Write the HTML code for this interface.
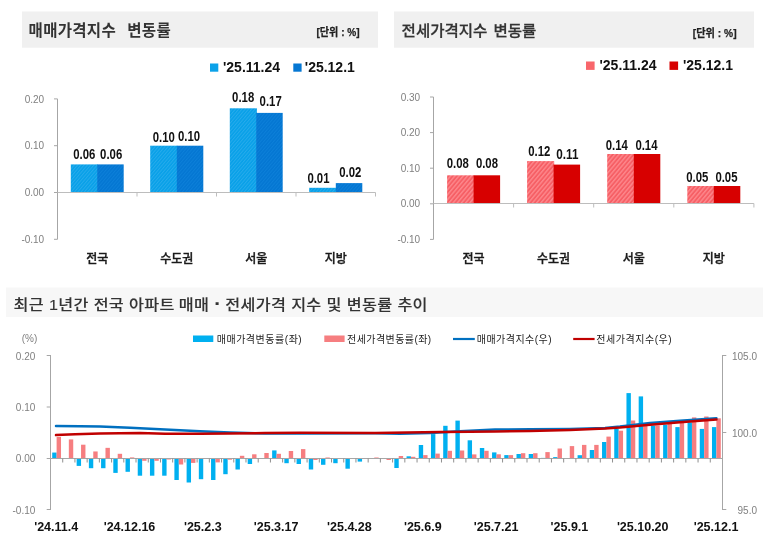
<!DOCTYPE html>
<html lang="ko"><head><meta charset="utf-8"><title>주간 아파트 가격 동향</title>
<style>html,body{margin:0;padding:0;background:#fff;}body{width:766px;height:551px;overflow:hidden;}svg{display:block;}
text{font-family:'Liberation Sans', 'Noto Sans CJK KR', 'NanumGothic', sans-serif;}
.kr{font-family:'Liberation Sans','Noto Sans CJK KR','NanumGothic',sans-serif;}
.ax{font-size:10px;fill:#808080;}
.val{font-size:15px;font-weight:700;fill:#111;}
.cat{font-size:12px;font-weight:500;fill:#1a1a1a;stroke:#1a1a1a;stroke-width:0.35px;}
.leg{font-size:14px;font-weight:700;fill:#111;}
.xl{font-size:12.5px;font-weight:700;fill:#111;}
.lg2{font-size:10px;fill:#222;}
</style></head><body>
<svg width="766" height="551" viewBox="0 0 766 551">
<defs>
<pattern id="pb1" width="2.5" height="2.5" patternUnits="userSpaceOnUse" patternTransform="rotate(-50)"><rect width="2.5" height="2.5" fill="#07a0e8"/><rect width="2.5" height="1" fill="#27abec"/></pattern>
<pattern id="pb2" width="2.5" height="2.5" patternUnits="userSpaceOnUse" patternTransform="rotate(-50)"><rect width="2.5" height="2.5" fill="#0476d2"/><rect width="2.5" height="1" fill="#0d80d9"/></pattern>
<pattern id="pr1" width="3.2" height="3.2" patternUnits="userSpaceOnUse" patternTransform="rotate(-50)"><rect width="3.2" height="3.2" fill="#f65f65"/><rect width="3.2" height="1.4" fill="#fd878c"/></pattern>
</defs>
<rect width="766" height="551" fill="#ffffff"/>
<rect x="22" y="11.5" width="356" height="36.2" fill="#f0f0f0"/>
<rect x="394" y="11.5" width="360" height="36.2" fill="#f0f0f0"/>
<rect x="6" y="287.5" width="757" height="29.5" fill="#f7f7f7"/>
<text class="kr" transform="translate(28.60 35.90) scale(0.985 1)" font-size="15.80" font-weight="700" fill="#333"  style="letter-spacing:0.25px;word-spacing:6.90px">매매가격지수 변동률</text>
<text class="kr" transform="translate(401.60 36.10) scale(1.050 1)" font-size="14.80" font-weight="500" fill="#333" stroke="#333" stroke-width="0.25" style="letter-spacing:0.00px;word-spacing:1.71px">전세가격지수 변동률</text>
<text class="kr" x="316.4" y="36" font-size="11" font-weight="700" fill="#222" stroke="#222" stroke-width="0.25" textLength="43.3" lengthAdjust="spacingAndGlyphs">[단위 : %]</text>
<text class="kr" x="692.8" y="36.5" font-size="11" font-weight="700" fill="#222" stroke="#222" stroke-width="0.25" textLength="43.8" lengthAdjust="spacingAndGlyphs">[단위 : %]</text>
<text class="kr" transform="translate(13.50 310.30) scale(1.080 1)" font-size="15.00" font-weight="500" fill="#333" stroke="#333" stroke-width="0.1" style="letter-spacing:0.28px;word-spacing:0.19px">최근 1년간 전국 아파트 <tspan dx="-0.9">매매</tspan> <tspan font-weight="700" font-size="19">·</tspan> <tspan dx="-0.9">전세가격</tspan> 지수 및 변동률 추이</text>
<g stroke="#a6a6a6" stroke-width="1" fill="none">
<path d="M57.5 98.9V239.3"/>
<path d="M54.0 98.9H57.5"/>
<path d="M54.0 145.7H57.5"/>
<path d="M54.0 192.5H57.5"/>
<path d="M54.0 239.3H57.5"/>
</g>
<text class="ax" x="44.2" y="102.5" text-anchor="end">0.20</text>
<text class="ax" x="44.2" y="149.3" text-anchor="end">0.10</text>
<text class="ax" x="44.2" y="196.1" text-anchor="end">0.00</text>
<text class="ax" x="44.2" y="242.9" text-anchor="end">-0.10</text>
<rect x="70.8" y="164.4" width="27.1" height="28.1" fill="url(#pb1)"/>
<text class="val" x="73.2" y="159.2" textLength="22.1" lengthAdjust="spacingAndGlyphs">0.06</text>
<rect x="97.2" y="164.4" width="26.5" height="28.1" fill="url(#pb2)"/>
<text class="val" x="100.1" y="159.2" textLength="22.1" lengthAdjust="spacingAndGlyphs">0.06</text>
<rect x="150.2" y="145.7" width="27.1" height="46.8" fill="url(#pb1)"/>
<text class="val" x="152.7" y="142.3" textLength="22.1" lengthAdjust="spacingAndGlyphs">0.10</text>
<rect x="176.8" y="145.7" width="26.5" height="46.8" fill="url(#pb2)"/>
<text class="val" x="178.0" y="141.0" textLength="22.1" lengthAdjust="spacingAndGlyphs">0.10</text>
<rect x="229.8" y="108.3" width="27.1" height="84.2" fill="url(#pb1)"/>
<text class="val" x="232.1" y="102.0" textLength="22.1" lengthAdjust="spacingAndGlyphs">0.18</text>
<rect x="256.2" y="112.9" width="26.5" height="79.6" fill="url(#pb2)"/>
<text class="val" x="259.6" y="106.2" textLength="22.1" lengthAdjust="spacingAndGlyphs">0.17</text>
<rect x="309.2" y="187.8" width="27.1" height="4.7" fill="url(#pb1)"/>
<text class="val" x="307.4" y="182.6" textLength="22.1" lengthAdjust="spacingAndGlyphs">0.01</text>
<rect x="335.8" y="183.1" width="26.5" height="9.4" fill="url(#pb2)"/>
<text class="val" x="339.2" y="177.2" textLength="22.1" lengthAdjust="spacingAndGlyphs">0.02</text>
<g stroke="#bdbdbd" stroke-width="1" fill="none">
<path d="M57.5 192.5H375.5"/>
<path d="M137.0 192.5v4"/>
<path d="M216.5 192.5v4"/>
<path d="M296.0 192.5v4"/>
<path d="M375.5 192.5v4"/>
</g>
<text class="kr cat" x="97.2" y="263" text-anchor="middle">전국</text>
<text class="kr cat" x="176.8" y="263" text-anchor="middle">수도권</text>
<text class="kr cat" x="256.2" y="263" text-anchor="middle">서울</text>
<text class="kr cat" x="335.8" y="263" text-anchor="middle">지방</text>
<g stroke="#a6a6a6" stroke-width="1" fill="none">
<path d="M433.5 97.0V239.4"/>
<path d="M430.0 97.0H433.5"/>
<path d="M430.0 132.6H433.5"/>
<path d="M430.0 168.2H433.5"/>
<path d="M430.0 203.8H433.5"/>
<path d="M430.0 239.4H433.5"/>
</g>
<text class="ax" x="420.2" y="100.6" text-anchor="end">0.30</text>
<text class="ax" x="420.2" y="136.2" text-anchor="end">0.20</text>
<text class="ax" x="420.2" y="171.8" text-anchor="end">0.10</text>
<text class="ax" x="420.2" y="207.4" text-anchor="end">0.00</text>
<text class="ax" x="420.2" y="243.0" text-anchor="end">-0.10</text>
<rect x="447.1" y="175.3" width="27.1" height="28.5" fill="url(#pr1)"/>
<text class="val" x="446.7" y="168.3" textLength="22.1" lengthAdjust="spacingAndGlyphs">0.08</text>
<rect x="473.6" y="175.3" width="26.5" height="28.5" fill="#d70000"/>
<text class="val" x="475.9" y="168.3" textLength="22.1" lengthAdjust="spacingAndGlyphs">0.08</text>
<rect x="527.1" y="161.1" width="27.1" height="42.7" fill="url(#pr1)"/>
<text class="val" x="528.3" y="155.8" textLength="22.1" lengthAdjust="spacingAndGlyphs">0.12</text>
<rect x="553.6" y="164.6" width="26.5" height="39.2" fill="#d70000"/>
<text class="val" x="556.3" y="158.5" textLength="22.1" lengthAdjust="spacingAndGlyphs">0.11</text>
<rect x="607.2" y="154.0" width="27.1" height="49.8" fill="url(#pr1)"/>
<text class="val" x="605.8" y="150.0" textLength="22.1" lengthAdjust="spacingAndGlyphs">0.14</text>
<rect x="633.8" y="154.0" width="26.5" height="49.8" fill="#d70000"/>
<text class="val" x="635.4" y="150.0" textLength="22.1" lengthAdjust="spacingAndGlyphs">0.14</text>
<rect x="687.3" y="186.0" width="27.1" height="17.8" fill="url(#pr1)"/>
<text class="val" x="686.2" y="181.9" textLength="22.1" lengthAdjust="spacingAndGlyphs">0.05</text>
<rect x="713.8" y="186.0" width="26.5" height="17.8" fill="#d70000"/>
<text class="val" x="715.4" y="181.9" textLength="22.1" lengthAdjust="spacingAndGlyphs">0.05</text>
<g stroke="#bdbdbd" stroke-width="1" fill="none">
<path d="M433.5 203.5H753.9"/>
<path d="M513.6 203.5v4"/>
<path d="M593.7 203.5v4"/>
<path d="M673.8 203.5v4"/>
<path d="M753.9 203.5v4"/>
</g>
<text class="kr cat" x="473.6" y="263" text-anchor="middle">전국</text>
<text class="kr cat" x="553.6" y="263" text-anchor="middle">수도권</text>
<text class="kr cat" x="633.8" y="263" text-anchor="middle">서울</text>
<text class="kr cat" x="713.8" y="263" text-anchor="middle">지방</text>
<rect x="210" y="63.5" width="8.3" height="8.2" fill="#0ba2e9"/>
<text class="leg" x="223" y="71.6">'25.11.24</text>
<rect x="293.3" y="63.5" width="8.3" height="8.2" fill="#0577d3"/>
<text class="leg" x="304.8" y="71.6">'25.12.1</text>
<rect x="586" y="61.5" width="8.6" height="8.4" fill="#f8666b"/>
<text class="leg" x="599.5" y="70">'25.11.24</text>
<rect x="669.5" y="61.5" width="8.6" height="8.4" fill="#d70000"/>
<text class="leg" x="683" y="70">'25.12.1</text>
<g fill="#00b0f0">
<rect x="52.21" y="452.55" width="4.40" height="5.95"/>
<rect x="76.65" y="458.50" width="4.40" height="7.40"/>
<rect x="88.86" y="458.50" width="4.40" height="9.70"/>
<rect x="101.08" y="458.50" width="4.40" height="9.70"/>
<rect x="113.30" y="458.50" width="4.40" height="14.40"/>
<rect x="125.52" y="458.50" width="4.40" height="13.30"/>
<rect x="137.74" y="458.50" width="4.40" height="17.20"/>
<rect x="149.95" y="458.50" width="4.40" height="17.20"/>
<rect x="162.17" y="458.50" width="4.40" height="17.20"/>
<rect x="174.39" y="458.50" width="4.40" height="21.50"/>
<rect x="186.61" y="458.50" width="4.40" height="24.00"/>
<rect x="198.83" y="458.50" width="4.40" height="20.70"/>
<rect x="211.05" y="458.50" width="4.40" height="21.50"/>
<rect x="223.26" y="458.50" width="4.40" height="15.70"/>
<rect x="235.48" y="458.50" width="4.40" height="11.00"/>
<rect x="247.70" y="458.50" width="4.40" height="5.50"/>
<rect x="272.14" y="450.40" width="4.40" height="8.10"/>
<rect x="284.35" y="458.50" width="4.40" height="4.70"/>
<rect x="296.57" y="458.50" width="4.40" height="5.50"/>
<rect x="308.79" y="458.50" width="4.40" height="11.00"/>
<rect x="321.01" y="458.50" width="4.40" height="6.30"/>
<rect x="333.23" y="458.50" width="4.40" height="4.70"/>
<rect x="345.45" y="458.50" width="4.40" height="10.20"/>
<rect x="357.66" y="458.50" width="4.40" height="3.10"/>
<rect x="369.88" y="458.50" width="4.40" height="0.40"/>
<rect x="382.10" y="458.50" width="4.40" height="0.30"/>
<rect x="394.32" y="458.50" width="4.40" height="9.50"/>
<rect x="406.54" y="456.30" width="4.40" height="2.20"/>
<rect x="418.75" y="445.00" width="4.40" height="13.50"/>
<rect x="430.97" y="434.10" width="4.40" height="24.40"/>
<rect x="443.19" y="425.80" width="4.40" height="32.70"/>
<rect x="455.41" y="420.60" width="4.40" height="37.90"/>
<rect x="467.63" y="440.30" width="4.40" height="18.20"/>
<rect x="479.85" y="448.00" width="4.40" height="10.50"/>
<rect x="492.06" y="452.40" width="4.40" height="6.10"/>
<rect x="504.28" y="455.10" width="4.40" height="3.40"/>
<rect x="516.50" y="454.00" width="4.40" height="4.50"/>
<rect x="528.72" y="454.00" width="4.40" height="4.50"/>
<rect x="540.94" y="457.90" width="4.40" height="0.60"/>
<rect x="553.15" y="457.10" width="4.40" height="1.40"/>
<rect x="577.59" y="455.20" width="4.40" height="3.30"/>
<rect x="589.81" y="450.00" width="4.40" height="8.50"/>
<rect x="602.03" y="442.00" width="4.40" height="16.50"/>
<rect x="614.25" y="428.90" width="4.40" height="29.60"/>
<rect x="626.46" y="393.10" width="4.40" height="65.40"/>
<rect x="638.68" y="396.40" width="4.40" height="62.10"/>
<rect x="650.90" y="425.60" width="4.40" height="32.90"/>
<rect x="663.12" y="424.70" width="4.40" height="33.80"/>
<rect x="675.34" y="427.10" width="4.40" height="31.40"/>
<rect x="687.55" y="422.30" width="4.40" height="36.20"/>
<rect x="699.77" y="428.90" width="4.40" height="29.60"/>
<rect x="711.99" y="427.10" width="4.40" height="31.40"/>
</g>
<g fill="#f67e80">
<rect x="56.61" y="436.90" width="4.40" height="21.60"/>
<rect x="68.83" y="439.40" width="4.40" height="19.10"/>
<rect x="81.05" y="444.70" width="4.40" height="13.80"/>
<rect x="93.26" y="451.45" width="4.40" height="7.05"/>
<rect x="105.48" y="447.85" width="4.40" height="10.65"/>
<rect x="117.70" y="453.80" width="4.40" height="4.70"/>
<rect x="129.92" y="457.40" width="4.40" height="1.10"/>
<rect x="142.14" y="458.50" width="4.40" height="2.30"/>
<rect x="154.35" y="458.50" width="4.40" height="2.30"/>
<rect x="166.57" y="458.50" width="4.40" height="1.00"/>
<rect x="178.79" y="458.50" width="4.40" height="6.00"/>
<rect x="191.01" y="458.50" width="4.40" height="4.40"/>
<rect x="203.23" y="458.50" width="4.40" height="0.50"/>
<rect x="215.45" y="458.50" width="4.40" height="3.90"/>
<rect x="227.66" y="458.50" width="4.40" height="1.20"/>
<rect x="239.88" y="455.80" width="4.40" height="2.70"/>
<rect x="252.10" y="454.30" width="4.40" height="4.20"/>
<rect x="264.32" y="453.00" width="4.40" height="5.50"/>
<rect x="276.54" y="453.80" width="4.40" height="4.70"/>
<rect x="288.75" y="451.00" width="4.40" height="7.50"/>
<rect x="300.97" y="449.10" width="4.40" height="9.40"/>
<rect x="313.19" y="458.50" width="4.40" height="1.50"/>
<rect x="325.41" y="457.50" width="4.40" height="1.00"/>
<rect x="374.28" y="457.50" width="4.40" height="1.00"/>
<rect x="386.50" y="458.50" width="4.40" height="1.50"/>
<rect x="398.72" y="456.00" width="4.40" height="2.50"/>
<rect x="410.94" y="456.80" width="4.40" height="1.70"/>
<rect x="423.15" y="455.10" width="4.40" height="3.40"/>
<rect x="435.37" y="453.60" width="4.40" height="4.90"/>
<rect x="447.59" y="450.80" width="4.40" height="7.70"/>
<rect x="459.81" y="450.50" width="4.40" height="8.00"/>
<rect x="472.03" y="454.40" width="4.40" height="4.10"/>
<rect x="484.25" y="450.80" width="4.40" height="7.70"/>
<rect x="496.46" y="454.30" width="4.40" height="4.20"/>
<rect x="508.68" y="455.10" width="4.40" height="3.40"/>
<rect x="520.90" y="453.20" width="4.40" height="5.30"/>
<rect x="533.12" y="453.20" width="4.40" height="5.30"/>
<rect x="545.34" y="452.10" width="4.40" height="6.40"/>
<rect x="557.55" y="448.50" width="4.40" height="10.00"/>
<rect x="569.77" y="446.10" width="4.40" height="12.40"/>
<rect x="581.99" y="444.90" width="4.40" height="13.60"/>
<rect x="594.21" y="444.90" width="4.40" height="13.60"/>
<rect x="606.43" y="436.60" width="4.40" height="21.90"/>
<rect x="618.65" y="430.70" width="4.40" height="27.80"/>
<rect x="630.86" y="420.50" width="4.40" height="38.00"/>
<rect x="643.08" y="425.60" width="4.40" height="32.90"/>
<rect x="655.30" y="425.50" width="4.40" height="33.00"/>
<rect x="667.52" y="422.90" width="4.40" height="35.60"/>
<rect x="679.74" y="422.30" width="4.40" height="36.20"/>
<rect x="691.95" y="417.40" width="4.40" height="41.10"/>
<rect x="704.17" y="416.50" width="4.40" height="42.00"/>
<rect x="716.39" y="418.30" width="4.40" height="40.20"/>
</g>
<g stroke="#a6a6a6" stroke-width="1" fill="none">
<path d="M50.5 355V510"/>
<path d="M46.7 355.5H50.5"/>
<path d="M46.7 407.0H50.5"/>
<path d="M46.7 458.5H50.5"/>
<path d="M46.7 509.5H50.5"/>
<path d="M722.5 355V510"/>
<path d="M722.5 355.5H726.3"/>
<path d="M722.5 432.5H726.3"/>
<path d="M722.5 509.5H726.3"/>
<path d="M50.5 458.5H722.5"/>
<path d="M62.72 458.5v4" stroke="#8f8f8f"/>
<path d="M74.94 458.5v4" stroke="#8f8f8f"/>
<path d="M87.15 458.5v4" stroke="#8f8f8f"/>
<path d="M99.37 458.5v4" stroke="#8f8f8f"/>
<path d="M111.59 458.5v4" stroke="#8f8f8f"/>
<path d="M123.81 458.5v4" stroke="#8f8f8f"/>
<path d="M136.03 458.5v4" stroke="#8f8f8f"/>
<path d="M148.25 458.5v4" stroke="#8f8f8f"/>
<path d="M160.46 458.5v4" stroke="#8f8f8f"/>
<path d="M172.68 458.5v4" stroke="#8f8f8f"/>
<path d="M184.90 458.5v4" stroke="#8f8f8f"/>
<path d="M197.12 458.5v4" stroke="#8f8f8f"/>
<path d="M209.34 458.5v4" stroke="#8f8f8f"/>
<path d="M221.55 458.5v4" stroke="#8f8f8f"/>
<path d="M233.77 458.5v4" stroke="#8f8f8f"/>
<path d="M245.99 458.5v4" stroke="#8f8f8f"/>
<path d="M258.21 458.5v4" stroke="#8f8f8f"/>
<path d="M270.43 458.5v4" stroke="#8f8f8f"/>
<path d="M282.65 458.5v4" stroke="#8f8f8f"/>
<path d="M294.86 458.5v4" stroke="#8f8f8f"/>
<path d="M307.08 458.5v4" stroke="#8f8f8f"/>
<path d="M319.30 458.5v4" stroke="#8f8f8f"/>
<path d="M331.52 458.5v4" stroke="#8f8f8f"/>
<path d="M343.74 458.5v4" stroke="#8f8f8f"/>
<path d="M355.95 458.5v4" stroke="#8f8f8f"/>
<path d="M368.17 458.5v4" stroke="#8f8f8f"/>
<path d="M380.39 458.5v4" stroke="#8f8f8f"/>
<path d="M392.61 458.5v4" stroke="#8f8f8f"/>
<path d="M404.83 458.5v4" stroke="#8f8f8f"/>
<path d="M417.05 458.5v4" stroke="#8f8f8f"/>
<path d="M429.26 458.5v4" stroke="#8f8f8f"/>
<path d="M441.48 458.5v4" stroke="#8f8f8f"/>
<path d="M453.70 458.5v4" stroke="#8f8f8f"/>
<path d="M465.92 458.5v4" stroke="#8f8f8f"/>
<path d="M478.14 458.5v4" stroke="#8f8f8f"/>
<path d="M490.35 458.5v4" stroke="#8f8f8f"/>
<path d="M502.57 458.5v4" stroke="#8f8f8f"/>
<path d="M514.79 458.5v4" stroke="#8f8f8f"/>
<path d="M527.01 458.5v4" stroke="#8f8f8f"/>
<path d="M539.23 458.5v4" stroke="#8f8f8f"/>
<path d="M551.45 458.5v4" stroke="#8f8f8f"/>
<path d="M563.66 458.5v4" stroke="#8f8f8f"/>
<path d="M575.88 458.5v4" stroke="#8f8f8f"/>
<path d="M588.10 458.5v4" stroke="#8f8f8f"/>
<path d="M600.32 458.5v4" stroke="#8f8f8f"/>
<path d="M612.54 458.5v4" stroke="#8f8f8f"/>
<path d="M624.75 458.5v4" stroke="#8f8f8f"/>
<path d="M636.97 458.5v4" stroke="#8f8f8f"/>
<path d="M649.19 458.5v4" stroke="#8f8f8f"/>
<path d="M661.41 458.5v4" stroke="#8f8f8f"/>
<path d="M673.63 458.5v4" stroke="#8f8f8f"/>
<path d="M685.85 458.5v4" stroke="#8f8f8f"/>
<path d="M698.06 458.5v4" stroke="#8f8f8f"/>
<path d="M710.28 458.5v4" stroke="#8f8f8f"/>
</g>
<text class="ax" x="35.3" y="359.5" text-anchor="end">0.20</text>
<text class="ax" x="35.3" y="410.9" text-anchor="end">0.10</text>
<text class="ax" x="35.3" y="462.4" text-anchor="end">0.00</text>
<text class="ax" x="35.3" y="513.6" text-anchor="end">-0.10</text>
<text class="ax" x="757" y="360.1" text-anchor="end">105.0</text>
<text class="ax" x="757" y="437.1" text-anchor="end">100.0</text>
<text class="ax" x="757" y="514.2" text-anchor="end">95.0</text>
<text class="ax" x="21.7" y="341.7" font-size="12.3">(%)</text>
<polyline fill="none" stroke="#0070c0" stroke-width="2.5" stroke-linejoin="round" stroke-linecap="round" points="56.0,426.1 80.0,426.2 100.0,426.6 130.0,427.8 165.0,429.6 200.0,431.3 230.0,432.4 265.0,433.5 300.0,433.4 375.0,433.3 400.0,433.7 430.0,433.0 455.0,431.6 475.0,430.4 495.0,429.6 530.0,429.3 570.0,429.0 605.0,428.0 620.0,426.6 650.0,422.9 680.0,420.8 716.4,418.2"/>
<polyline fill="none" stroke="#c00000" stroke-width="2.5" stroke-linejoin="round" stroke-linecap="round" points="56.0,435.1 75.0,434.2 100.0,433.6 140.0,433.1 165.0,433.8 200.0,433.8 265.0,433.1 300.0,432.8 375.0,433.0 440.0,432.1 470.0,431.8 495.0,431.5 530.0,430.9 570.0,429.9 605.0,428.6 620.0,427.6 650.0,424.7 680.0,422.3 716.4,419.6"/>
<text class="xl" x="56.2" y="531.3" text-anchor="middle">'24.11.4</text>
<text class="xl" x="129.5" y="531.3" text-anchor="middle">'24.12.16</text>
<text class="xl" x="202.8" y="531.3" text-anchor="middle">'25.2.3</text>
<text class="xl" x="276.1" y="531.3" text-anchor="middle">'25.3.17</text>
<text class="xl" x="349.4" y="531.3" text-anchor="middle">'25.4.28</text>
<text class="xl" x="422.8" y="531.3" text-anchor="middle">'25.6.9</text>
<text class="xl" x="496.1" y="531.3" text-anchor="middle">'25.7.21</text>
<text class="xl" x="569.4" y="531.3" text-anchor="middle">'25.9.1</text>
<text class="xl" x="642.7" y="531.3" text-anchor="middle">'25.10.20</text>
<text class="xl" x="716.0" y="531.3" text-anchor="middle">'25.12.1</text>
<rect x="193" y="335.5" width="20.3" height="6.5" fill="#00b0f0"/>
<text class="kr lg2" x="216.7" y="342.5" textLength="85" lengthAdjust="spacing">매매가격변동률(좌)</text>
<rect x="324.3" y="335.5" width="20.3" height="6.5" fill="#f67e80"/>
<text class="kr lg2" x="347" y="342.5" textLength="84.2" lengthAdjust="spacing">전세가격변동률(좌)</text>
<path d="M453 339H474.8" stroke="#0070c0" stroke-width="2.2"/>
<text class="kr lg2" x="476.8" y="342.5" textLength="74.7" lengthAdjust="spacing">매매가격지수(우)</text>
<path d="M573.2 339H594.6" stroke="#c00000" stroke-width="2.2"/>
<text class="kr lg2" x="596.3" y="342.5" textLength="75.4" lengthAdjust="spacing">전세가격지수(우)</text>
</svg></body></html>
